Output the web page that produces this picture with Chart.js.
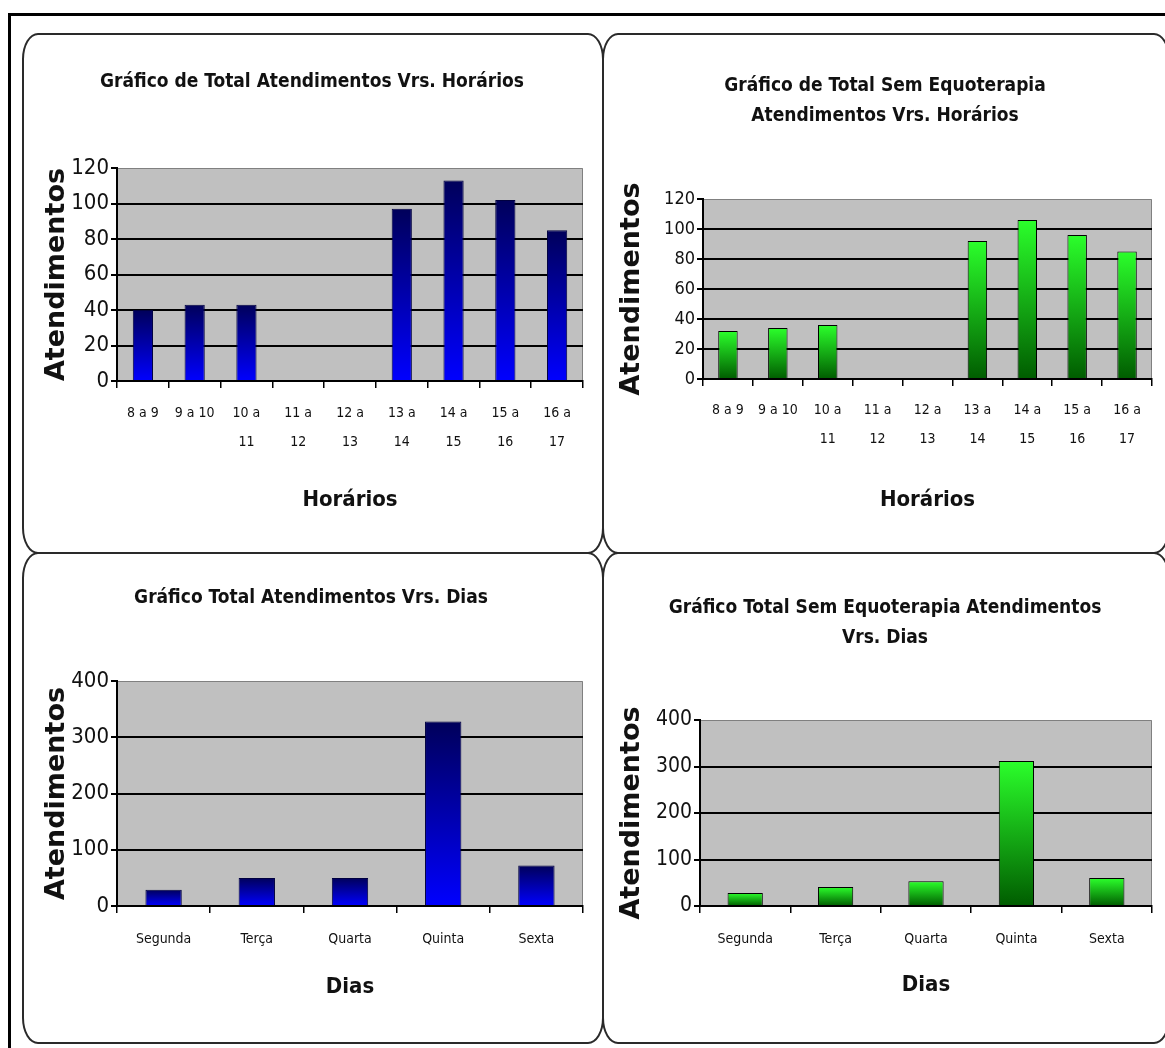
<!DOCTYPE html>
<html>
<head>
<meta charset="utf-8">
<script src="https://cdn.jsdelivr.net/npm/chart.js@4.4.1/dist/chart.umd.min.js"></script>
<style>
    body { margin: 0; background: #fff; width: 1165px; height: 1048px; overflow: hidden; position: relative; }
    #frame { position: absolute; left: 8px; top: 13px; width: 1200px; height: 1100px; border-top: 3px solid #000; border-left: 3px solid #000; }
    .panel { position: absolute; border: 2px solid #2a2a2a; border-radius: 16px / 26px; box-sizing: border-box; background: #fff; }
    canvas { position: absolute; }
</style>
</head>
<body>
<div id="frame"></div>
<div class="panel" style="left:22px;top:33px;width:582px;height:521px"></div>
<div class="panel" style="left:602px;top:33px;width:568px;height:521px"></div>
<div class="panel" style="left:22px;top:552px;width:582px;height:492px"></div>
<div class="panel" style="left:602px;top:552px;width:568px;height:492px"></div>

<canvas id="chartTotalHorarios" width="580" height="519" style="left:22px;top:33px"></canvas>
<canvas id="chartSemEquoHorarios" width="566" height="519" style="left:602px;top:33px"></canvas>
<canvas id="chartTotalDias" width="580" height="491" style="left:22px;top:552px"></canvas>
<canvas id="chartSemEquoDias" width="566" height="491" style="left:602px;top:552px"></canvas>

<script>
// Categorias
const horarios = [['8 a 9'], ['9 a 10'], ['10 a', '11'], ['11 a', '12'], ['12 a', '13'],
                  ['13 a', '14'], ['14 a', '15'], ['15 a', '16'], ['16 a', '17']];
const dias = ['Segunda', 'Terça', 'Quarta', 'Quinta', 'Sexta'];

// Valores
const totalHorarios = [40, 43, 43, 0, 0, 97, 113, 102, 85];
const semEquoHorarios = [32, 34, 36, 0, 0, 92, 106, 96, 85];
const totalDias = [29, 50, 50, 328, 72];
const semEquoDias = [28, 41, 53, 312, 60];

// Marcas do eixo Y
const ticksHorarios = [0, 20, 40, 60, 80, 100, 120];
const ticksDias = [0, 100, 200, 300, 400];

const NARROW = '"Liberation Sans Narrow", "DejaVu Sans Condensed", "Roboto Condensed", "Liberation Sans", sans-serif';
const HEAVY = '"DejaVu Sans", "Liberation Sans", sans-serif';

const BLUE = ['#00005a', '#0000ff'];
const GREEN = ['#2bff2b', '#005c00'];

// Fundo cinza da área do gráfico e título do painel
const panelPlugin = {
    id: 'panel',
    beforeDraw(chart, args, opts) {
        const a = chart.chartArea;
        const ctx = chart.ctx;
        ctx.save();
        ctx.fillStyle = '#c0c0c0';
        ctx.fillRect(a.left, a.top, a.right - a.left, a.bottom - a.top);
        ctx.strokeStyle = '#808080';
        ctx.lineWidth = 1;
        ctx.beginPath();
        ctx.moveTo(a.left, a.top + 0.5);
        ctx.lineTo(a.right - 0.5, a.top + 0.5);
        ctx.lineTo(a.right - 0.5, a.bottom);
        ctx.stroke();
        ctx.restore();
    },
    afterDraw(chart, args, opts) {
        const ctx = chart.ctx;
        ctx.save();
        ctx.fillStyle = '#111';
        ctx.font = 'bold 19px ' + NARROW;
        ctx.textAlign = 'center';
        ctx.textBaseline = 'middle';
        opts.lines.forEach((t, i) => ctx.fillText(t, opts.x, opts.y + i * 30));
        ctx.restore();
    }
};

function makeChart(id, p) {
    const ctx = document.getElementById(id).getContext('2d');
    const maxTick = p.ticks[p.ticks.length - 1];

    return new Chart(ctx, {
        type: 'bar',
        data: {
            labels: p.labels,
            datasets: [{
                data: p.values,
                backgroundColor: function(c) {
                    const y = c.chart.scales.y;
                    if (!y || c.type !== 'data') return p.colors[1];
                    const top = y.getPixelForValue(c.raw);
                    const base = y.getPixelForValue(0);
                    if (!isFinite(top) || !isFinite(base) || top === base) return p.colors[1];
                    const g = c.chart.ctx.createLinearGradient(0, top, 0, base);
                    g.addColorStop(0, p.colors[0]);
                    g.addColorStop(1, p.colors[1]);
                    return g;
                },
                borderColor: p.border,
                borderWidth: 1,
                barPercentage: 0.39,
                categoryPercentage: 1
            }]
        },
        plugins: [panelPlugin],
        options: {
            responsive: false,
            animation: false,
            layout: { padding: { left: 0, top: p.top, right: p.right, bottom: 0 } },
            scales: {
                x: {
                    afterFit: s => { s.height = p.xHeight; },
                    grid: { display: true, drawOnChartArea: false, drawTicks: true, tickLength: 7, color: '#000', lineWidth: 1.5, offset: true },
                    border: { display: true, color: '#000', width: 2 },
                    ticks: { color: '#111', maxRotation: 0, autoSkip: false, padding: p.xPad,
                             font: { family: NARROW, size: 14, lineHeight: p.xLine } },
                    title: { display: true, text: p.xTitle, color: '#111', padding: { top: 0, bottom: p.xTitlePad },
                             font: { family: NARROW, size: 22, weight: 'bold', lineHeight: 1.2 } }
                },
                y: {
                    min: 0,
                    max: maxTick,
                    afterFit: s => { s.width = p.yWidth; },
                    afterBuildTicks: s => { s.ticks = p.ticks.map(v => ({ value: v })); },
                    grid: {
                        color: c => (c.tick && c.tick.value === maxTick) ? 'rgba(0,0,0,0)' : '#000',
                        lineWidth: 2,
                        tickColor: '#000',
                        tickLength: 6
                    },
                    border: { display: true, color: '#000', width: 2 },
                    ticks: { color: '#111', padding: 2, font: { family: NARROW, size: p.yFont } },
                    title: { display: true, text: 'Atendimentos', color: '#111', padding: { top: p.yTitlePad, bottom: 0 },
                             font: { family: HEAVY, size: 27, weight: 'bold', lineHeight: 1.1 } }
                }
            },
            plugins: {
                legend: { display: false },
                tooltip: { enabled: false },
                panel: { lines: p.title, x: p.titleX, y: p.titleY }
            }
        }
    });
}

makeChart('chartTotalHorarios', {
    labels: horarios, values: totalHorarios, ticks: ticksHorarios, colors: BLUE, border: '#000040',
    top: 135, right: 19, xHeight: 171, yWidth: 95, xPad: 11, xLine: 29 / 14, xTitle: 'Horários', xTitlePad: 39,
    yFont: 22, yTitlePad: 20,
    title: ['Gráfico de Total Atendimentos Vrs. Horários'], titleX: 290, titleY: 49
});

makeChart('chartSemEquoHorarios', {
    labels: horarios, values: semEquoHorarios, ticks: ticksHorarios, colors: GREEN, border: '#000',
    top: 166, right: 16, xHeight: 173, yWidth: 101, xPad: 10, xLine: 29 / 14, xTitle: 'Horários', xTitlePad: 39,
    yFont: 18, yTitlePad: 15,
    title: ['Gráfico de Total Sem Equoterapia', 'Atendimentos Vrs. Horários'], titleX: 283, titleY: 53
});

makeChart('chartTotalDias', {
    labels: dias, values: totalDias, ticks: ticksDias, colors: BLUE, border: '#000040',
    top: 129, right: 19, xHeight: 137, yWidth: 95, xPad: 18, xLine: 1.2, xTitle: 'Dias', xTitlePad: 43,
    yFont: 22, yTitlePad: 20,
    title: ['Gráfico Total Atendimentos Vrs. Dias'], titleX: 289, titleY: 46
});

makeChart('chartSemEquoDias', {
    labels: dias, values: semEquoDias, ticks: ticksDias, colors: GREEN, border: '#000',
    top: 168, right: 16, xHeight: 137, yWidth: 98, xPad: 18, xLine: 1.2, xTitle: 'Dias', xTitlePad: 45,
    yFont: 21, yTitlePad: 15,
    title: ['Gráfico Total Sem Equoterapia Atendimentos', 'Vrs. Dias'], titleX: 283, titleY: 56
});
</script>
</body>
</html>
